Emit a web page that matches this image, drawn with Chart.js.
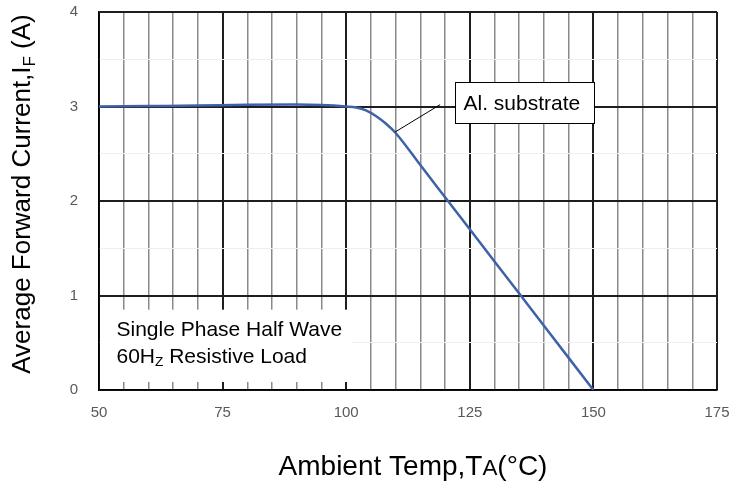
<!DOCTYPE html>
<html>
<head>
<meta charset="utf-8">
<script src="https://cdn.jsdelivr.net/npm/chart.js@4"></script>
<style>
html,body{margin:0;padding:0;background:#fff;}
#wrap{width:734px;height:497px;position:relative;}
</style>
</head>
<body>
<div id="wrap"><canvas id="c" width="734" height="497"></canvas></div>
<script>
const temps = [50, 60, 70, 80, 90, 95, 100, 102, 104, 106, 108, 110, 115, 120, 125, 130, 135, 140, 145, 150];
const current = [3.0, 3.005, 3.01, 3.018, 3.02, 3.015, 3.0, 2.99, 2.96, 2.9, 2.82, 2.72, 2.38, 2.04, 1.7, 1.36, 1.02, 0.68, 0.34, 0.0];
const xTickLabels = [50, 75, 100, 125, 150, 175];
const yTickLabels = [0, 1, 2, 3, 4];
const seriesLabel = 'Al. substrate';
const noteLine1 = 'Single Phase Half Wave';
const noteLine2 = ['60H', 'Z', ' Resistive Load'];
const xTitle = ['Ambient Temp,T', 'A', '(°C)'];
const yTitle = ['Average Forward Current,I', 'F', ' (A)'];
const FONT = '"Liberation Sans", Arial, sans-serif';

// parts: [text, kind] kind: false normal, 'sub' subscript, 'small' reduced on baseline
function drawRich(ctx, parts, x, y, size, align) {
  const sz = p => p[1] === 'small' ? size * 0.8 : (p[1] === 'sub' ? size * 0.65 : size);
  let w = 0;
  parts.forEach(p => { ctx.font = sz(p) + 'px ' + FONT; w += ctx.measureText(p[0]).width; });
  let cx = align === 'center' ? x - w / 2 : x;
  ctx.textAlign = 'left';
  ctx.textBaseline = 'alphabetic';
  parts.forEach(p => {
    ctx.font = sz(p) + 'px ' + FONT;
    ctx.fillText(p[0], cx, y + (p[1] === 'sub' ? size * 0.18 : 0));
    cx += ctx.measureText(p[0]).width;
  });
}

const overlay = {
  id: 'overlay',
  afterDatasetsDraw(chart) {
    const ctx = chart.ctx, xs = chart.scales.x, ys = chart.scales.y;
    ctx.save();
    // lower-left note box (white, no border)
    const bx0 = xs.getPixelForValue(50) + 1.5, bx1 = xs.getPixelForValue(101.2);
    const by0 = ys.getPixelForValue(0.85), by1 = ys.getPixelForValue(0.085);
    ctx.fillStyle = '#fff';
    ctx.fillRect(bx0, by0, bx1 - bx0, by1 - by0);
    ctx.fillStyle = '#000';
    drawRich(ctx, [[noteLine1, false]], bx0 + 16, by0 + 26, 21, 'left');
    drawRich(ctx, [[noteLine2[0], false], [noteLine2[1], 'sub'], [noteLine2[2], false]], bx0 + 16, by0 + 53, 21, 'left');
    // leader line
    ctx.strokeStyle = '#000';
    ctx.lineWidth = 1;
    ctx.beginPath();
    ctx.moveTo(xs.getPixelForValue(119), ys.getPixelForValue(3.02));
    ctx.lineTo(xs.getPixelForValue(109.9), ys.getPixelForValue(2.73));
    ctx.stroke();
    // label box
    const lx0 = Math.round(xs.getPixelForValue(122)) + 0.5, lx1 = Math.round(xs.getPixelForValue(150.1)) + 0.5;
    const ly0 = Math.round(ys.getPixelForValue(3.26)) + 0.5, ly1 = Math.round(ys.getPixelForValue(2.825)) + 0.5;
    ctx.fillStyle = '#fff';
    ctx.fillRect(lx0, ly0, lx1 - lx0, ly1 - ly0);
    ctx.strokeRect(lx0, ly0, lx1 - lx0, ly1 - ly0);
    ctx.fillStyle = '#000';
    drawRich(ctx, [[seriesLabel, false]], lx0 + 8, ly0 + 27, 21, 'left');
    // axis titles
    const ca = chart.chartArea;
    drawRich(ctx, [[xTitle[0], false], [xTitle[1], 'small'], [xTitle[2], false]], (ca.left + ca.right) / 2 + 5, 475, 28, 'center');
    ctx.translate(30, (ca.top + ca.bottom) / 2 - 7);
    ctx.rotate(-Math.PI / 2);
    drawRich(ctx, [[yTitle[0], false], [yTitle[1], 'sub'], [yTitle[2], false]], 0, 0, 26, 'center');
    ctx.restore();
  }
};

new Chart(document.getElementById('c'), {
  type: 'line',
  data: {
    datasets: [{
      label: seriesLabel,
      data: temps.map((t, i) => ({ x: t, y: current[i] })),
      borderColor: '#3e62a8',
      borderWidth: 2.5,
      pointRadius: 0,
      cubicInterpolationMode: 'monotone',
      fill: false
    }]
  },
  options: {
    responsive: false,
    animation: false,
    devicePixelRatio: 1,
    layout: { padding: { top: 12, right: 17, left: 0, bottom: 0 } },
    plugins: { legend: { display: false }, tooltip: { enabled: false } },
    scales: {
      x: {
        type: 'linear', min: 50, max: 175,
        afterFit(s) { s.height = 107; s.paddingLeft = 0; s.paddingRight = 0; },
        ticks: {
          stepSize: 5, autoSkip: false, maxRotation: 0, padding: 14,
          color: '#595959', font: { family: FONT, size: 15 },
          callback: v => xTickLabels.includes(v) ? String(v) : ''
        },
        grid: {
          drawTicks: false,
          color: c => (c.tick && c.tick.value % 25 === 0) ? '#1e1e1e' : '#8a8a8a',
          lineWidth: c => (c.tick && c.tick.value % 25 === 0) ? 2 : 1.5
        },
        border: { display: true, color: '#000', width: 1.5 }
      },
      y: {
        type: 'linear', min: 0, max: 4,
        afterFit(s) { s.width = 99; s.paddingTop = 0; s.paddingBottom = 0; },
        ticks: {
          stepSize: 0.5, autoSkip: false, padding: 21,
          color: '#595959', font: { family: FONT, size: 15 },
          callback: v => yTickLabels.includes(v) ? String(v) : ''
        },
        grid: {
          drawTicks: false,
          color: c => (c.tick && c.tick.value % 1 === 0) ? '#1e1e1e' : '#eeeeee',
          lineWidth: c => (c.tick && c.tick.value % 1 === 0) ? 2 : 1
        },
        border: { display: true, color: '#000', width: 1.5 }
      }
    }
  },
  plugins: [overlay]
});
</script>
</body>
</html>
